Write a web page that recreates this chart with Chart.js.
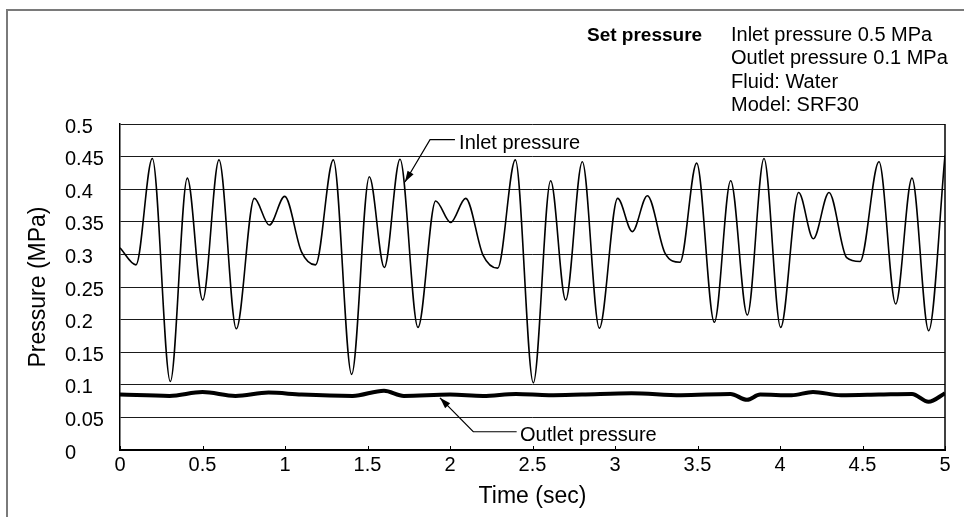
<!DOCTYPE html>
<html>
<head>
<meta charset="utf-8">
<script src="https://cdn.jsdelivr.net/npm/chart.js@4/dist/chart.umd.min.js"></script>
<style>
  body { margin: 0; background: #fff; }
  #wrap { width: 964px; height: 517px; }
</style>
</head>
<body>
<div id="wrap"><canvas id="chart" width="964" height="517"></canvas></div>
<script>
// Inlet pressure (MPa), peaks/valleys/shoulders
const inletTime = [0, 0.097, 0.196, 0.305, 0.408, 0.501, 0.6, 0.705, 0.814, 0.905, 0.998, 1.1, 1.185,
  1.293, 1.404, 1.511, 1.602, 1.697, 1.806, 1.913, 2.004, 2.095, 2.2, 2.289, 2.396, 2.505,
  2.61, 2.701, 2.802, 2.905, 3.016, 3.105, 3.196, 3.303, 3.394, 3.495, 3.602, 3.701, 3.802,
  3.903, 4.004, 4.113, 4.202, 4.297, 4.404, 4.485, 4.6, 4.701, 4.8, 4.901, 5.0];
const inletPressure = [0.31, 0.284, 0.447, 0.105, 0.417, 0.23, 0.445, 0.186, 0.386, 0.345, 0.389, 0.304, 0.284,
  0.445, 0.116, 0.419, 0.28, 0.446, 0.188, 0.382, 0.349, 0.386, 0.299, 0.279, 0.445, 0.103,
  0.413, 0.23, 0.442, 0.187, 0.386, 0.335, 0.39, 0.302, 0.288, 0.44, 0.196, 0.413, 0.207,
  0.447, 0.188, 0.395, 0.324, 0.395, 0.295, 0.289, 0.442, 0.224, 0.417, 0.183, 0.452];

// Outlet pressure (MPa)
const outletTime = [0, 0.3, 0.5, 0.7, 0.9, 1.1, 1.41, 1.6, 1.72, 2.0, 2.2, 2.4, 2.6, 2.8, 3.1,
  3.4, 3.7, 3.8, 3.88, 4.07, 4.2, 4.37, 4.6, 4.8, 4.9, 5.0];
const outletPressure = [0.085, 0.083, 0.089, 0.083, 0.088, 0.085, 0.083, 0.091, 0.083, 0.085, 0.083, 0.086, 0.084, 0.085, 0.087,
  0.084, 0.086, 0.077, 0.085, 0.084, 0.089, 0.084, 0.085, 0.086, 0.074, 0.087];

const headerLabel = 'Set pressure';
const headerLines = ['Inlet pressure 0.5 MPa', 'Outlet pressure 0.1 MPa', 'Fluid: Water', 'Model: SRF30'];

// callouts, given in data units (time, MPa)
const callouts = [
  { text: 'Inlet pressure', tip: [1.727, 0.411], elbow: [1.879, 0.476], end: [2.03, 0.476], label: [2.055, 0.462] },
  { text: 'Outlet pressure', tip: [1.939, 0.080], elbow: [2.141, 0.028], end: [2.404, 0.028], label: [2.424, 0.0145] }
];

const FONT = '"Liberation Sans", Arial, sans-serif';

const decor = {
  id: 'decor',
  beforeDraw(chart) {
    const ctx = chart.ctx;
    ctx.save();
    ctx.fillStyle = '#fff';
    ctx.fillRect(0, 0, chart.width, chart.height);
    // outer frame
    ctx.strokeStyle = '#7a7a7a';
    ctx.lineWidth = 2;
    ctx.beginPath();
    ctx.moveTo(7, chart.height + 5);
    ctx.lineTo(7, 10);
    ctx.lineTo(chart.width + 5, 10);
    ctx.stroke();
    ctx.restore();
  },
  afterDraw(chart) {
    const { ctx, chartArea: a, scales: { x, y } } = chart;
    ctx.save();

    // right border
    ctx.strokeStyle = '#000';
    ctx.lineWidth = 1.5;
    ctx.beginPath();
    ctx.moveTo(a.right, a.top);
    ctx.lineTo(a.right, a.bottom);
    ctx.stroke();

    // inner x ticks
    ctx.lineWidth = 1;
    x.ticks.forEach(t => {
      const px = Math.round(x.getPixelForValue(t.value)) + 0.5;
      ctx.beginPath();
      ctx.moveTo(px, a.bottom);
      ctx.lineTo(px, a.bottom - 4);
      ctx.stroke();
    });

    ctx.fillStyle = '#000';
    // axis titles
    ctx.font = '23px ' + FONT;
    ctx.textAlign = 'center';
    ctx.textBaseline = 'alphabetic';
    ctx.fillText('Time (sec)', (a.left + a.right) / 2, 503);
    ctx.save();
    ctx.translate(45, (a.top + a.bottom) / 2);
    ctx.rotate(-Math.PI / 2);
    ctx.fillText('Pressure (MPa)', 0, 0);
    ctx.restore();

    // header block
    ctx.textAlign = 'left';
    ctx.font = 'bold 19px ' + FONT;
    ctx.fillText(headerLabel, 587, 41);
    ctx.font = '20px ' + FONT;
    headerLines.forEach((s, i) => ctx.fillText(s, 731, 41 + i * 23.3));

    // callouts
    callouts.forEach(c => {
      const tip = [x.getPixelForValue(c.tip[0]), y.getPixelForValue(c.tip[1])];
      const elb = [x.getPixelForValue(c.elbow[0]), y.getPixelForValue(c.elbow[1])];
      const end = [x.getPixelForValue(c.end[0]), y.getPixelForValue(c.end[1])];
      ctx.strokeStyle = '#000';
      ctx.lineWidth = 1.2;
      ctx.beginPath();
      ctx.moveTo(end[0], end[1]);
      ctx.lineTo(elb[0], elb[1]);
      ctx.lineTo(tip[0], tip[1]);
      ctx.stroke();
      // arrow head
      const ang = Math.atan2(tip[1] - elb[1], tip[0] - elb[0]);
      const len = 11, half = 3.5;
      ctx.beginPath();
      ctx.moveTo(tip[0], tip[1]);
      ctx.lineTo(tip[0] - len * Math.cos(ang) + half * Math.sin(ang), tip[1] - len * Math.sin(ang) - half * Math.cos(ang));
      ctx.lineTo(tip[0] - len * Math.cos(ang) - half * Math.sin(ang), tip[1] - len * Math.sin(ang) + half * Math.cos(ang));
      ctx.closePath();
      ctx.fill();
      ctx.font = '20px ' + FONT;
      ctx.fillText(c.text, x.getPixelForValue(c.label[0]), y.getPixelForValue(c.label[1]));
    });

    ctx.restore();
  }
};

new Chart(document.getElementById('chart'), {
  type: 'line',
  data: {
    datasets: [
      {
        label: 'Inlet pressure',
        data: inletTime.map((t, i) => ({ x: t, y: inletPressure[i] })),
        borderColor: '#000',
        borderWidth: 1.6,
        pointRadius: 0,
        cubicInterpolationMode: 'monotone',
        fill: false
      },
      {
        label: 'Outlet pressure',
        data: outletTime.map((t, i) => ({ x: t, y: outletPressure[i] })),
        borderColor: '#000',
        borderWidth: 4,
        pointRadius: 0,
        cubicInterpolationMode: 'monotone',
        fill: false
      }
    ]
  },
  options: {
    responsive: false,
    animation: false,
    events: [],
    layout: { padding: { top: 124, right: 19, left: 65, bottom: 0 } },
    plugins: { legend: { display: false }, tooltip: { enabled: false } },
    scales: {
      x: {
        type: 'linear',
        min: 0, max: 5,
        afterFit: s => { s.height = 67; },
        grid: { display: false, drawTicks: false },
        border: { display: true, color: '#000', width: 2 },
        ticks: {
          stepSize: 0.5,
          padding: 3,
          color: '#000',
          maxRotation: 0,
          font: { family: FONT, size: 20 },
          callback: v => String(Number(v.toFixed(2)))
        }
      },
      y: {
        min: 0, max: 0.5,
        afterFit: s => { s.width = 55; },
        grid: { color: '#1a1a1a', lineWidth: 1, drawTicks: false },
        border: { display: true, color: '#000', width: 1.5 },
        ticks: {
          stepSize: 0.05,
          padding: 15,
          crossAlign: 'far',
          labelOffset: 3,
          color: '#000',
          font: { family: FONT, size: 20 },
          callback: v => String(Number(v.toFixed(2)))
        }
      }
    }
  },
  plugins: [decor]
});
</script>
</body>
</html>
